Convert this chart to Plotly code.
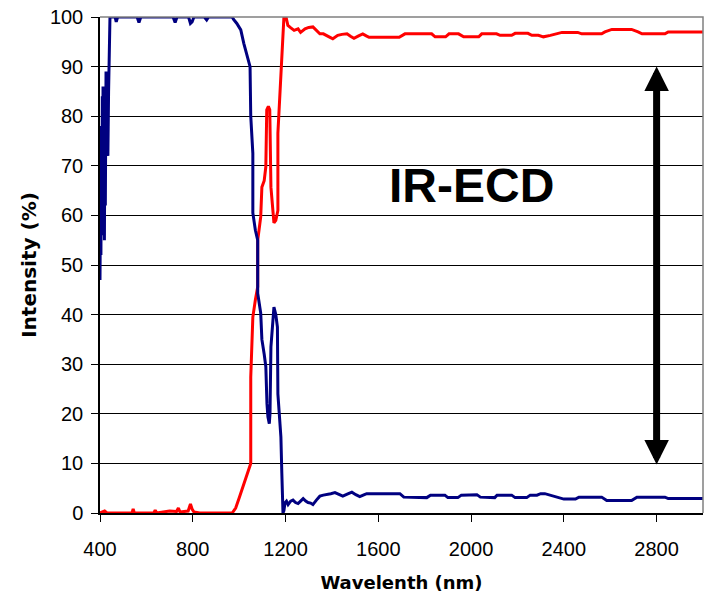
import plotly.graph_objects as go

# ---- data ----
blue_wavelength = [400, 402, 404, 406, 408, 410, 412, 413, 415, 417, 419, 421, 423, 426, 428, 431, 434, 437, 440, 443,
                   465, 470, 476, 560, 568, 576, 715, 724, 732, 782, 790, 797, 805, 850, 860, 868, 970, 976, 990,
                   1007, 1020, 1030, 1037, 1047, 1050, 1055, 1059, 1059, 1070, 1080, 1080, 1093, 1098, 1108, 1115,
                   1120, 1124, 1130, 1133, 1137, 1143, 1150, 1158, 1165, 1167, 1172, 1180, 1184, 1189, 1193, 1198,
                   1204, 1211, 1222, 1232, 1243, 1254, 1265, 1276, 1287, 1297, 1308, 1318, 1333, 1348, 1363, 1378,
                   1395, 1413, 1430, 1447, 1466, 1486, 1503, 1520, 1540, 1550, 1693, 1710, 1809, 1825, 1887, 1900,
                   1943, 1958, 2025, 2040, 2102, 2112, 2175, 2190, 2240, 2255, 2284, 2300, 2318, 2340, 2360, 2385,
                   2400, 2450, 2465, 2563, 2585, 2692, 2715, 2836, 2850, 3000]
blue_intensity = [47, 62, 52, 78, 56, 84, 60, 86, 62, 74, 55, 78, 62, 89, 74, 84, 72, 85, 99, 100,
                  100, 99.0, 100, 100, 98.9, 100, 100, 98.9, 100, 100, 98.7, 99.0, 100, 100, 99.4, 100, 100, 99.5, 98.7,
                  97.4, 94.7, 93, 92, 90, 80, 76, 72.5, 60.5, 57, 55, 44.3, 40.3, 35, 32, 29.5,
                  22, 19.4, 18, 20, 33.5, 37, 41.5, 40, 37.5, 24, 20, 15.3, 8, 0, 0.5, 2.1,
                  2.4, 1.7, 2.4, 2.6, 2.1, 1.9, 2.4, 2.9, 2.4, 2.1, 2.0, 1.7, 2.6, 3.4, 3.6, 3.7,
                  3.9, 4.1, 3.8, 3.4, 3.8, 4.2, 3.7, 3.3, 3.7, 3.9, 3.9, 3.2, 3.1, 3.6, 3.6, 3.1,
                  3.1, 3.6, 3.7, 3.2, 3.1, 3.6, 3.6, 3.1, 3.1, 3.6, 3.6, 3.9, 3.9, 3.6, 3.3, 3.1,
                  2.8, 2.8, 3.2, 3.2, 2.5, 2.5, 3.2, 3.2, 2.9, 2.9]

red_wavelength = [400, 420, 430, 538, 543, 548, 632, 638, 644, 680, 700, 730, 738, 745, 780, 790, 797, 805, 830,
                  970, 985, 1000, 1007, 1020, 1028, 1040, 1050, 1050, 1059, 1070, 1080, 1080, 1093, 1098, 1108,
                  1115, 1119, 1126, 1132, 1137, 1143, 1150, 1158, 1167, 1167, 1176, 1183, 1189, 1193, 1202, 1210,
                  1223, 1237, 1254, 1265, 1284, 1300, 1318, 1333, 1348, 1363, 1378, 1392, 1404, 1425, 1443, 1465,
                  1480, 1495, 1515, 1533, 1548, 1560, 1690, 1715, 1830, 1845, 1890, 1905, 1946, 1968, 2033, 2046,
                  2110, 2125, 2175, 2190, 2245, 2262, 2290, 2312, 2342, 2370, 2392, 2460, 2477, 2563, 2577, 2607,
                  2692, 2720, 2737, 2836, 2850, 3000]
red_intensity = [0, 0.4, 0, 0, 0.8, 0, 0, 0.6, 0, 0.2, 0.4, 0.3, 1.0, 0.2, 0.4, 1.8, 0.8, 0.2, 0,
                 0, 1, 3, 4, 5.5, 6.6, 8.5, 10, 27.4, 39.5, 43, 45.6, 55, 59.7, 65.7, 67,
                 69.8, 81.3, 82, 81.3, 65.7, 62, 58.5, 59, 61, 76.6, 84.7, 92, 96, 100, 100, 98.3,
                 97.8, 97.3, 97.6, 96.9, 97.6, 97.9, 98, 97.2, 96.6, 96.6, 96.3, 95.9, 95.6, 96.3, 96.5, 96.6,
                 96.1, 95.7, 96.2, 96.6, 96.2, 95.9, 95.9, 96.6, 96.6, 96.0, 96.0, 96.6, 96.6, 96.0, 96.0, 96.6,
                 96.6, 96.3, 96.3, 96.7, 96.7, 96.3, 96.3, 96.0, 96.3, 96.6, 96.9, 96.9, 96.6, 96.6, 97.0, 97.5,
                 97.5, 97.0, 96.6, 96.6, 97.0, 97.0]

x_ticks = [400, 800, 1200, 1600, 2000, 2400, 2800]
y_ticks = [0, 10, 20, 30, 40, 50, 60, 70, 80, 90, 100]

label_text = "IR-ECD"
label_pos = (2000, 66)
arrow_x = 2800
arrow_low, arrow_high = 9.5, 90

fig = go.Figure()
fig.add_trace(go.Scatter(x=red_wavelength, y=red_intensity, mode="lines",
                         line=dict(color="#FF0000", width=3), showlegend=False))
fig.add_trace(go.Scatter(x=blue_wavelength, y=blue_intensity, mode="lines",
                         line=dict(color="#000080", width=3), showlegend=False))

fig.add_annotation(x=label_pos[0], y=label_pos[1], text=f"<b>{label_text}</b>", showarrow=False,
                   font=dict(family="Liberation Sans, Arial", size=48, color="black"))

fig.add_annotation(x=arrow_x, y=arrow_high, ax=arrow_x, ay=arrow_low, xref="x", yref="y",
                   axref="x", ayref="y", text="", showarrow=True, arrowhead=2, arrowside="end+start",
                   arrowwidth=7, arrowsize=0.7, arrowcolor="black", standoff=0, startstandoff=0)

fig.update_layout(
    width=705, height=603,
    margin=dict(l=100, r=2, t=17, b=90),
    paper_bgcolor="white", plot_bgcolor="white",
    font=dict(family="Liberation Sans, Arial", size=20, color="black"),
    shapes=[dict(type="path", xref="paper", yref="paper", path="M0,1 L1,1 L1,0",
                 line=dict(color="#808080", width=1.5), layer="above")],
)
fig.update_xaxes(range=[400, 3000], tickvals=x_ticks, showgrid=False, zeroline=False, automargin=False,
                 showline=True, linecolor="black", linewidth=1.5, ticks="outside", ticklen=7,
                 tickcolor="black", ticklabelstandoff=10, ticklabeloverflow="allow",
                 title=dict(text="<b>Wavelenth (nm)</b>", font=dict(family="DejaVu Sans", size=18),
                            standoff=18))
fig.update_yaxes(range=[0, 100], tickvals=y_ticks, showgrid=True, gridcolor="black", gridwidth=1,
                 zeroline=False, showline=True, linecolor="black", linewidth=1.5, ticks="outside",
                 automargin=False, ticklen=7, tickcolor="black", ticklabelstandoff=4,
                 ticklabeloverflow="allow",
                 title=dict(text="<b>Intensity (%)</b>", font=dict(family="DejaVu Sans", size=20),
                            standoff=8))

fig.write_html("out.html", config={"displayModeBar": False},
               post_script="document.body.style.margin='0px';document.body.style.overflow='hidden';")
